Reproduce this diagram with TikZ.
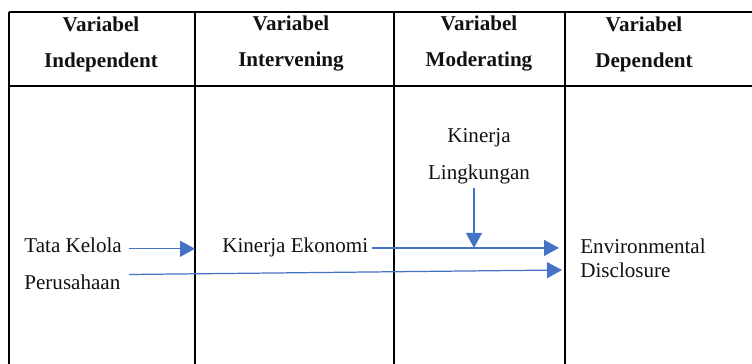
\documentclass[tikz,border=0pt]{standalone}
\usepackage{fontspec}
\setmainfont{Liberation Serif}
\usetikzlibrary{arrows.meta, positioning, calc}
\definecolor{flowBlue}{HTML}{4472C4}
\definecolor{textDark}{HTML}{111111}

\begin{document}
\begin{tikzpicture}[x=0.02cm, y=0.02cm,
    rule/.style={draw=black, line width=1.1pt},
    head/.style={font=\fontsize{12}{20.5}\selectfont\bfseries\color{textDark},
                 align=center},
    lbl/.style={font=\fontsize{12}{21}\selectfont\color{textDark}, inner sep=2pt},
    flow/.style={draw=flowBlue, line width=0.7pt,
                 -{Triangle[length=0.3cm, width=0.32cm]}},
  ]
  \useasboundingbox (0,0) rectangle (752,364);

  % table frame
  \coordinate (c1) at (9,0);
  \coordinate (c2) at (195,0);
  \coordinate (c3) at (394,0);
  \coordinate (c4) at (565,0);
  \draw[rule] (9,352) -- (752,352);
  \draw[rule] (9,278) -- (752,278);
  \draw[rule] (c1) -- (9,352);
  \draw[rule] (c2) -- (195,352);
  \draw[rule] (c3) -- (394,352);
  \draw[rule] (c4) -- (565,352);

  % column heads
  \node[head] (hInd) at (101,320) {Variabel\\Independent};
  \node[head] (hInt) at (291,320) {Variabel\\Intervening};
  \node[head] (hMod) at (479,320) {Variabel\\Moderating};
  \node[head] (hDep) at (644,320) {Variabel\\Dependent};

  % variables
  \node[lbl, anchor=base west] (tata) at (20.5,111) {Tata Kelola};
  \node[lbl, anchor=base west] (perus) at (20.5,74) {Perusahaan};
  \node[lbl, anchor=base west] (eko) at (218.5,111) {Kinerja Ekonomi};
  \node[lbl, align=center, anchor=south] (kinling) at (479,176)
    {Kinerja\\Lingkungan};
  \node[lbl, align=left, anchor=north west,
        font=\fontsize{12}{13.6}\selectfont\color{textDark}] (env) at (576.5,129)
    {Environmental\\Disclosure};

  % arrows
  \coordinate (tataOut) at ([shift={(3,-3)}]tata.east);
  \coordinate (perusOut) at ([shift={(5,-3)}]perus.north east);
  \coordinate (modIn) at ([xshift=-0.1cm]kinling.south);
  \coordinate (disclIn) at (562,94);
  \draw[flow] (tataOut) -- (tataOut -| c2);
  \draw[flow, shorten >=0.12cm] (eko.east) -- (eko.east -| c4);
  \draw[flow] (modIn) -- (modIn |- eko.east);
  \draw[flow] (perusOut) -- (disclIn);
\end{tikzpicture}
\end{document}
